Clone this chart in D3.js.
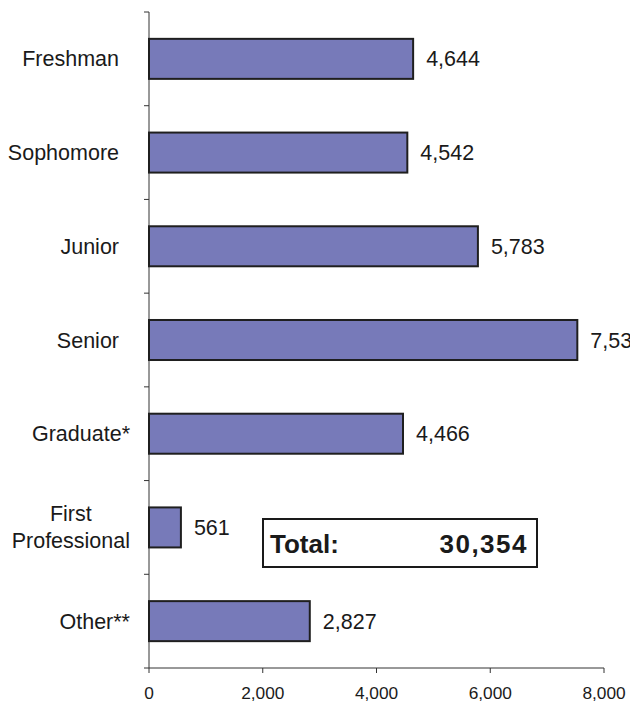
<!DOCTYPE html>
<html>
<head>
<meta charset="utf-8">
<style>
  body { margin: 0; background: #fff; }
  svg { display: block; overflow: hidden; }
  text { font-family: "Liberation Sans", Arial, sans-serif; fill: #1a1a1a; }
</style>
</head>
<body>
<div id="chart-area"></div>

<script src="https://cdnjs.cloudflare.com/ajax/libs/d3/7.8.5/d3.min.js"></script>
<script>
    // data
    const categories = ["Freshman", "Sophomore", "Junior", "Senior", "Graduate*", "First Professional", "Other**"];
    const counts = [4644, 4542, 5783, 7531, 4466, 561, 2827];
    const xTicks = [0, 2000, 4000, 6000, 8000];
    const totalLabel = "Total:";
    const totalValue = 30354;

    const width = 630;
    const height = 703;
    const margin = {top: 12, right: 25, bottom: 35, left: 149};

    const svg = d3.select("#chart-area")
        .append("svg")
            .attr("width", width)
            .attr("height", height);

    const x = d3.scaleLinear()
        .domain([0, 8000])
        .range([margin.left, width - margin.right - 1]);

    const y = d3.scaleBand()
        .domain(categories)
        .range([margin.top, height - margin.bottom])
        .paddingInner(0.573)
        .paddingOuter(0.2865);

    const fmt = d3.format(",");
    const step = y.step();
    const gap = step * y.paddingInner() / 2;

    // axes lines
    const axisColor = "#333";
    const yBottom = height - margin.bottom;
    svg.append("line")
        .attr("x1", x(0)).attr("x2", x(0))
        .attr("y1", margin.top).attr("y2", yBottom)
        .attr("stroke", axisColor);
    svg.append("line")
        .attr("x1", x(0) - 5).attr("x2", x(8000))
        .attr("y1", yBottom).attr("y2", yBottom)
        .attr("stroke", axisColor);

    // category tick marks at band boundaries
    const boundaries = categories.map(c => y(c) - gap);
    svg.selectAll(".ytick")
        .data(boundaries)
        .enter().append("line")
            .attr("x1", x(0) - 5).attr("x2", x(0))
            .attr("y1", d => d).attr("y2", d => d)
            .attr("stroke", axisColor);

    // x ticks
    const xt = svg.selectAll(".xtick")
        .data(xTicks)
        .enter().append("g")
            .attr("transform", d => `translate(${x(d)},${yBottom})`);
    xt.append("line").attr("y2", 5).attr("stroke", axisColor);
    xt.append("text")
        .attr("y", 31)
        .attr("text-anchor", "middle")
        .style("font-size", "17.3px")
        .text(d => fmt(d));

    // bars
    svg.selectAll("rect.bar")
        .data(counts)
        .enter().append("rect")
            .attr("class", "bar")
            .attr("x", x(0))
            .attr("y", (d, i) => y(categories[i]))
            .attr("width", d => x(d) - x(0))
            .attr("height", y.bandwidth())
            .attr("fill", "#777ab9")
            .attr("stroke", "#1f1f1f")
            .attr("stroke-width", 2);

    // value labels
    svg.selectAll("text.val")
        .data(counts)
        .enter().append("text")
            .attr("class", "val")
            .attr("x", d => x(d) + 13)
            .attr("y", (d, i) => y(categories[i]) + y.bandwidth() / 2)
            .attr("dy", "0.35em")
            .style("font-size", "21.5px")
            .text(d => fmt(d));

    // category labels
    const labelRight = x(0) - 19;
    categories.forEach(c => {
        const cy = y(c) + y.bandwidth() / 2;
        const words = c.split(" ");
        const t = svg.append("text")
            .style("font-size", "21.5px");
        if (words.length > 1) {
            const lh = 27;
            words.forEach((w, j) => {
                t.append("tspan")
                    .attr("x", 0)
                    .attr("y", cy + (j - (words.length - 1) / 2) * lh)
                    .attr("dy", "0.35em")
                    .text(w);
            });
            const w = t.node().getBBox().width;
            t.attr("text-anchor", "middle")
                .attr("transform", `translate(${labelRight - w / 2},0)`);
        } else {
            const starred = c.includes("*");
            t.attr("x", starred ? labelRight : labelRight - 11)
                .attr("y", cy)
                .attr("dy", "0.35em")
                .attr("text-anchor", "end")
                .text(c);
        }
    });

    // total box
    const bx = 263, by = 519, bw = 274, bh = 48;
    svg.append("rect")
        .attr("x", bx).attr("y", by)
        .attr("width", bw).attr("height", bh)
        .attr("fill", "#fff")
        .attr("stroke", "#1a1a1a")
        .attr("stroke-width", 2);
    svg.append("text")
        .attr("x", bx + 7).attr("y", by + 34)
        .style("font-size", "26px")
        .style("font-weight", "bold")
        .text(totalLabel);
    svg.append("text")
        .attr("x", bx + bw - 9).attr("y", by + 34)
        .attr("text-anchor", "end")
        .style("font-size", "26px")
        .style("font-weight", "bold")
        .style("letter-spacing", "1.5px")
        .text(fmt(totalValue));
</script>
</body>
</html>
